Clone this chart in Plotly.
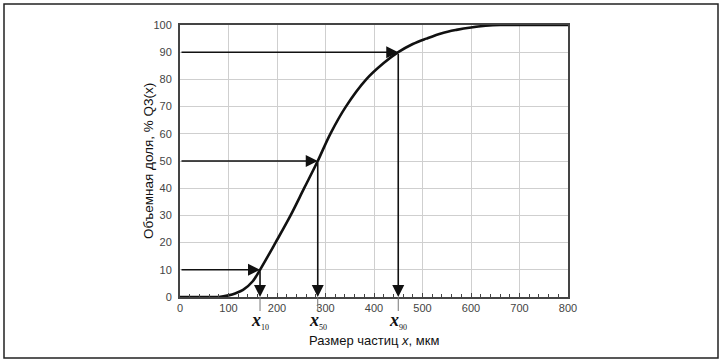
import plotly.graph_objects as go

# Cumulative volume distribution Q3(x)
size_um = [0, 50, 80, 100, 115, 130, 150, 165, 197, 228, 256, 284, 310, 342, 384, 420, 450, 480, 508, 540, 570, 600, 630, 660, 700, 800]
q3_pct = [0, 0, 0, 0.6, 1.4, 2.6, 5.8, 10, 20, 30, 40, 50, 60, 70, 80, 86, 90, 93, 95, 97, 98.2, 99.1, 99.7, 100, 100, 100]

# Characteristic sizes x10, x50, x90
char_levels = [10, 50, 90]
char_sizes = [165, 284, 450]
char_subs = ["10", "50", "90"]

x_ticks = [0, 100, 200, 300, 400, 500, 600, 700, 800]
y_ticks = [0, 10, 20, 30, 40, 50, 60, 70, 80, 90, 100]

W, H = 722, 364
L, R, T, B = 180, 154, 25, 67
pw, ph = W - L - R, H - T - B

def px_x(p):
    return (p - L) / pw

def px_y(p):
    return (H - B - p) / ph

fig = go.Figure()
fig.add_trace(go.Scatter(
    x=size_um, y=q3_pct, mode="lines",
    line=dict(color="#111111", width=2.6, shape="spline", smoothing=1.0),
    hoverinfo="skip", showlegend=False,
))

annotations = []
shapes = []
for lvl, xs, sub in zip(char_levels, char_sizes, char_subs):
    # horizontal arrow from y-axis to the curve
    annotations.append(dict(
        x=xs, y=lvl, ax=0, ay=lvl, xref="x", yref="y", axref="x", ayref="y",
        text="", showarrow=True, arrowhead=2, arrowsize=1.5, arrowwidth=1.6,
        arrowcolor="#111111", standoff=0,
    ))
    # vertical arrow from the curve down to the x-axis
    annotations.append(dict(
        x=xs, y=0, ax=xs, ay=lvl, xref="x", yref="y", axref="x", ayref="y",
        text="", showarrow=True, arrowhead=2, arrowsize=1.5, arrowwidth=1.6,
        arrowcolor="#111111", standoff=0,
    ))
    # thin guide line below the axis
    shapes.append(dict(
        type="line", xref="x", yref="paper", x0=xs, x1=xs,
        y0=0, y1=px_y(311), line=dict(color="#777777", width=1),
    ))
    annotations.append(dict(
        x=xs, y=px_y(321), xref="x", yref="paper", showarrow=False,
        text="<b><i>x</i></b><sub><span style='font-size:8px;color:#111111'>" + sub + "</span></sub>",
        font=dict(family="Liberation Serif", size=18, color="#111111"),
        xanchor="center", yanchor="middle",
    ))

# axis titles
annotations.append(dict(
    x=0.5, y=px_y(340), xref="paper", yref="paper", showarrow=False,
    text="Размер частиц <i>x</i>, мкм",
    font=dict(family="Liberation Sans", size=13, color="#111111"),
    xanchor="center", yanchor="middle",
))
annotations.append(dict(
    x=px_x(148), y=0.5, xref="paper", yref="paper", showarrow=False,
    text="Объемная доля, % Q3(x)", textangle=-90,
    font=dict(family="Liberation Sans", size=13.5, color="#111111"),
    xanchor="center", yanchor="middle",
))

# outer frame
shapes.append(dict(
    type="rect", xref="paper", yref="paper",
    x0=px_x(4), x1=px_x(718), y0=px_y(358), y1=px_y(4),
    line=dict(color="#222222", width=1.5), layer="above",
))

fig.update_layout(
    width=W, height=H,
    margin=dict(l=L, r=R, t=T, b=B),
    paper_bgcolor="white", plot_bgcolor="white",
    annotations=annotations, shapes=shapes,
    xaxis=dict(
        range=[0, 800], tickvals=x_ticks, ticktext=[str(v) for v in x_ticks],
        showgrid=True, gridcolor="#cfcfcf", gridwidth=1,
        showline=True, linecolor="#444444", linewidth=2, mirror=True,
        ticks="inside", ticklen=4, tickcolor="#444444",
        minor=dict(dtick=20, ticks="inside", ticklen=3, tickcolor="#444444", showgrid=False),
        tickfont=dict(family="Liberation Sans", size=11, color="#444444"),
        zeroline=False, fixedrange=True,
    ),
    yaxis=dict(
        range=[0, 100], tickvals=y_ticks, ticktext=[str(v) for v in y_ticks],
        showgrid=True, gridcolor="#cfcfcf", gridwidth=1,
        showline=True, linecolor="#444444", linewidth=2, mirror=True,
        ticks="", ticklabelstandoff=4,
        tickfont=dict(family="Liberation Sans", size=11, color="#444444"),
        zeroline=False, fixedrange=True,
    ),
)

fig.write_html(
    "out.html",
    config={"displayModeBar": False},
    post_script="document.body.style.margin='0';document.body.style.overflow='hidden';",
)
